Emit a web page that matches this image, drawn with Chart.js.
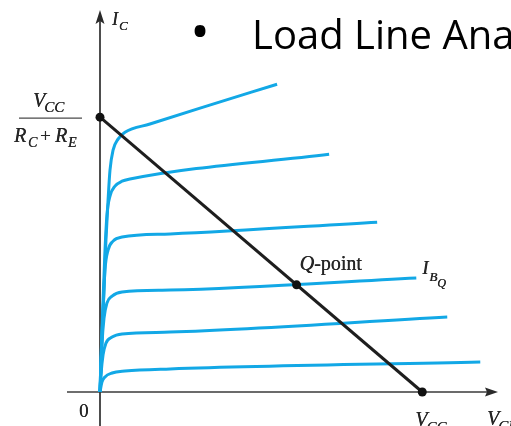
<!DOCTYPE html>
<html>
<head>
<meta charset="utf-8">
<script src="https://cdn.jsdelivr.net/npm/chart.js@4/dist/chart.umd.min.js"></script>
<style>
  html, body { margin: 0; padding: 0; background: #ffffff; }
  #wrap { width: 511px; height: 426px; position: relative; }
</style>
</head>
<body>
<div id="wrap"><canvas id="c" width="511" height="426"></canvas></div>
<script>
// Supply voltage (V) and saturation current VCC/(RC+RE) (mA)
const vcc = 20;
const icSat = 10;

// Operating point on the load line
const qVce = 12.2;
const qIc = 3.9;

// Collector characteristics, one curve per base current (VCE in V, IC in mA)
const ib6Vce = [0, 0.06, 0.12, 0.25, 0.37, 0.5, 0.62, 0.81, 1.12, 1.55, 3.1, 6.21, 10.99];
const ib6Ic  = [0, 0.8, 1.89, 3.71, 5.53, 6.98, 8.07, 8.8, 9.2, 9.45, 9.75, 10.33, 11.2];

const ib5Vce = [0, 0.06, 0.19, 0.31, 0.43, 0.62, 0.93, 1.37, 1.86, 14.22];
const ib5Ic  = [0, 1.16, 3.35, 5.16, 6.44, 7.13, 7.49, 7.67, 7.75, 8.65];

const ib4Vce = [0, 0.06, 0.19, 0.31, 0.5, 0.81, 1.37, 4.35, 17.2];
const ib4Ic  = [0, 1.16, 2.98, 4.44, 5.16, 5.49, 5.64, 5.75, 6.18];

const ib3Vce = [0, 0.06, 0.12, 0.25, 0.43, 0.75, 1.37, 4.35, 19.63];
const ib3Ic  = [0, 0.8, 1.71, 2.69, 3.24, 3.49, 3.64, 3.71, 4.15];

const ib2Vce = [0, 0.06, 0.19, 0.37, 0.75, 1.37, 4.35, 21.55];
const ib2Ic  = [0, 0.62, 1.35, 1.78, 2.0, 2.11, 2.18, 2.73];

const ib1Vce = [0, 0.12, 0.31, 0.75, 1.55, 4.35, 23.6];
const ib1Ic  = [0, 0.36, 0.55, 0.69, 0.76, 0.84, 1.09];

// Axis extents
const vceMax = 24.7;
const icMax = 13.9;

const curveColor = '#12a8e6';
const textColor = '#262626';

function pts(xs, ys) { return xs.map((x, i) => ({ x: x, y: ys[i] })); }

function curve(xs, ys) {
  return {
    type: 'line',
    data: pts(xs, ys),
    borderColor: curveColor,
    borderWidth: 3,
    pointRadius: 0,
    cubicInterpolationMode: 'monotone',
    fill: false,
    clip: false,
    order: 3
  };
}

// Axes with arrowheads, drawn beneath the curves
const axesPlugin = {
  id: 'axes',
  beforeDatasetsDraw(chart) {
    const ctx = chart.ctx;
    const xs = chart.scales.x, ys = chart.scales.y;
    const x0 = xs.getPixelForValue(0), y0 = ys.getPixelForValue(0);
    const xEnd = xs.getPixelForValue(vceMax), yTop = ys.getPixelForValue(icMax);
    ctx.save();
    ctx.lineCap = 'butt';
    // horizontal axis
    ctx.strokeStyle = '#6e6e6e';
    ctx.lineWidth = 2;
    ctx.beginPath(); ctx.moveTo(x0 - 33, y0); ctx.lineTo(x0, y0); ctx.stroke();
    ctx.strokeStyle = '#3a3a3a';
    ctx.lineWidth = 1.6;
    ctx.beginPath(); ctx.moveTo(x0, y0); ctx.lineTo(xEnd - 8, y0); ctx.stroke();
    ctx.fillStyle = '#2a2a2a';
    ctx.beginPath();
    ctx.moveTo(xEnd, y0); ctx.lineTo(xEnd - 13, y0 - 4.5); ctx.lineTo(xEnd - 11, y0); ctx.lineTo(xEnd - 13, y0 + 4.5);
    ctx.closePath(); ctx.fill();
    // vertical axis
    ctx.strokeStyle = '#3a3a3a';
    ctx.lineWidth = 1.8;
    ctx.beginPath(); ctx.moveTo(x0, chart.height); ctx.lineTo(x0, yTop + 8); ctx.stroke();
    ctx.beginPath();
    ctx.moveTo(x0, yTop); ctx.lineTo(x0 - 4.5, yTop + 14); ctx.lineTo(x0, yTop + 11); ctx.lineTo(x0 + 4.5, yTop + 14);
    ctx.closePath(); ctx.fill();
    ctx.restore();
  }
};

// Annotation text: axis names, intercepts, Q-point and heading
const labelsPlugin = {
  id: 'labels',
  afterDatasetsDraw(chart) {
    const ctx = chart.ctx;
    const xs = chart.scales.x, ys = chart.scales.y;
    const x0 = xs.getPixelForValue(0), y0 = ys.getPixelForValue(0);
    const ySat = ys.getPixelForValue(icSat);
    const xVcc = xs.getPixelForValue(vcc);
    const serif = '"Liberation Serif", "Times New Roman", serif';
    const it = (s) => 'italic ' + s + 'px ' + serif;
    const rm = (s) => s + 'px ' + serif;
    function t(str, x, y, font) {
      ctx.font = font;
      ctx.fillStyle = textColor;
      ctx.fillText(str, x, y);
      // light second pass thickens the thin serif strokes
      ctx.fillText(str, x + 0.35, y);
      return x + ctx.measureText(str).width;
    }
    ctx.save();
    ctx.textBaseline = 'alphabetic';
    ctx.textAlign = 'left';

    // I_C on the vertical axis
    let x = t('I', x0 + 12, 25, it(18));
    t('C', x + 1, 30, it(13));

    // VCC / (RC + RE) at the current intercept
    x = t('V', 33, ySat - 10, it(20));
    t('CC', x - 1, ySat - 5, it(15));
    ctx.strokeStyle = '#4a4a4a';
    ctx.lineWidth = 1.3;
    ctx.beginPath(); ctx.moveTo(19, ySat + 1); ctx.lineTo(82, ySat + 1); ctx.stroke();
    t('R', 14, ySat + 25, it(20));
    t('C', 28, ySat + 30, it(14));
    t('+', 40, ySat + 25, rm(19));
    t('R', 55, ySat + 25, it(20));
    t('E', 68, ySat + 30, it(14));

    // origin
    t('0', x0 - 21, y0 + 25, rm(19));

    // Q-point label
    const qx = xs.getPixelForValue(qVce), qy = ys.getPixelForValue(qIc);
    x = t('Q', qx + 3, qy - 15, it(20));
    t('-point', x, qy - 15, rm(20));

    // I_BQ at the end of the operating curve
    const bx = xs.getPixelForValue(ib3Vce[ib3Vce.length - 1]) + 6;
    const by = ys.getPixelForValue(ib3Ic[ib3Ic.length - 1]);
    x = t('I', bx, by - 4, it(18));
    x = t('B', x + 1, by + 3, it(13));
    t('Q', x, by + 9, it(12));

    // voltage intercept and horizontal axis name
    x = t('V', xVcc - 7, y0 + 34, it(20));
    t('CC', x - 1, y0 + 40, it(15));
    x = t('V', xs.getPixelForValue(vceMax) - 11, y0 + 33, it(20));
    t('CE', x - 1, y0 + 39, it(15));

    // heading
    ctx.fillStyle = '#000000';
    ctx.font = '52px "Open Sans", sans-serif';
    ctx.textAlign = 'center';
    ctx.fillText('\u2022', 200, 50);
    ctx.font = '40px "Open Sans", sans-serif';
    ctx.textAlign = 'left';
    ctx.fillText('Load Line Analysis', 252, 49);
    ctx.restore();
  }
};

new Chart(document.getElementById('c'), {
  type: 'scatter',
  data: {
    datasets: [
      {
        type: 'scatter',
        data: [{ x: 0, y: icSat }, { x: qVce, y: qIc }, { x: vcc, y: 0 }],
        pointRadius: 4.5,
        pointBackgroundColor: '#111111',
        pointBorderWidth: 0,
        clip: false,
        order: 1
      },
      {
        type: 'line',
        data: [{ x: 0, y: icSat }, { x: vcc, y: 0 }],
        borderColor: '#1e1e1e',
        borderWidth: 3,
        pointRadius: 0,
        fill: false,
        clip: false,
        order: 2
      },
      curve(ib6Vce, ib6Ic),
      curve(ib5Vce, ib5Ic),
      curve(ib4Vce, ib4Ic),
      curve(ib3Vce, ib3Ic),
      curve(ib2Vce, ib2Ic),
      curve(ib1Vce, ib1Ic)
    ]
  },
  options: {
    responsive: false,
    animation: false,
    layout: { padding: { left: 100, right: 13, top: 10, bottom: 34 } },
    plugins: { legend: { display: false }, tooltip: { enabled: false } },
    scales: {
      x: { type: 'linear', min: 0, max: vceMax, display: false },
      y: { type: 'linear', min: 0, max: icMax, display: false }
    }
  },
  plugins: [axesPlugin, labelsPlugin]
});
</script>
</body>
</html>
